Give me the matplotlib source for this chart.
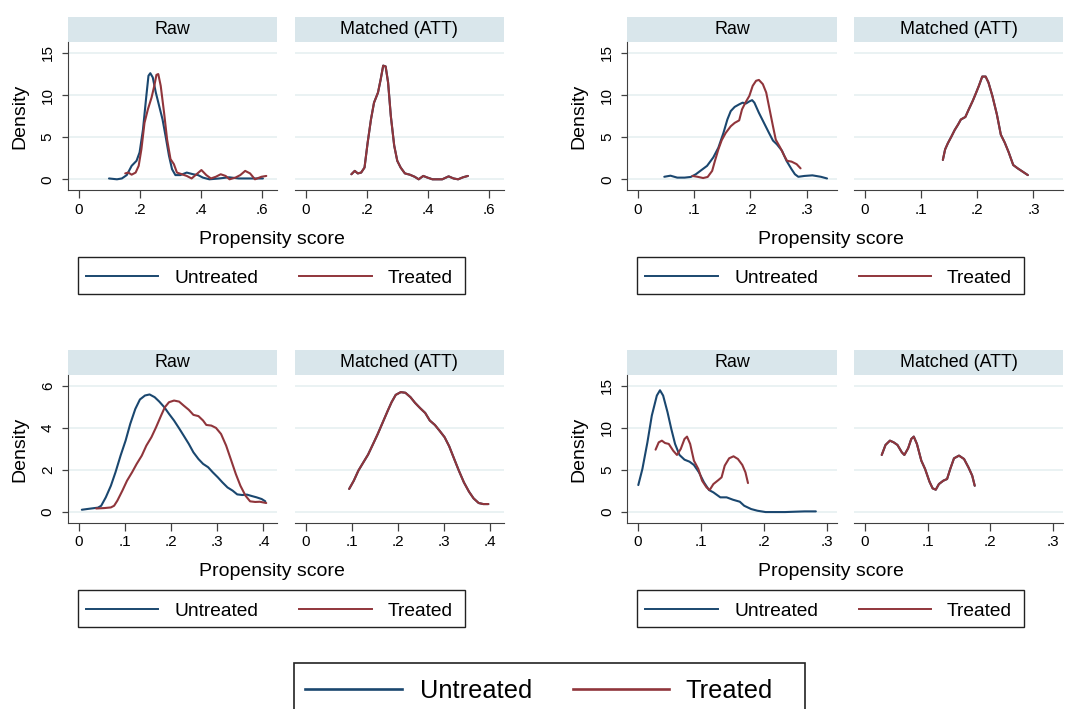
import matplotlib.pyplot as plt
from matplotlib.patches import Rectangle
from matplotlib.lines import Line2D

plt.rcParams["font.family"] = ["Liberation Sans", "DejaVu Sans"]

W, H = 1078, 709
NAVY = "#1a476f"
MAROON = "#90353b"
STRIP = "#d9e6eb"
GRID = "#eaf2f3"
AXC = "#404040"

panel_titles = ["Raw", "Matched (ATT)"]
legend_labels = ["Untreated", "Treated"]
x_title = "Propensity score"
y_title = "Density"

# ---- top-left graph ----
tl_xticks = [0, 0.2, 0.4, 0.6]
tl_xlabels = ["0", ".2", ".4", ".6"]
tl_yticks = [0, 5, 10, 15]
tl_raw_u_x = [.099, .125, .141, .157, .173, .189, .199, .210, .221, .228, .234, .242, .252, .263, .274, .284,
              .295, .305, .316, .332, .353, .374, .390, .406, .427, .459, .491, .523, .555, .586, .602]
tl_raw_u_y = [0.1, 0.0, 0.1, 0.5, 1.6, 2.2, 3.2, 5.9, 9.9, 12.3, 12.6, 12.1, 10.3, 8.7, 7.1, 5.1,
              2.8, 1.2, 0.5, 0.5, 0.8, 0.6, 0.5, 0.2, 0.0, 0.1, 0.24, 0.1, 0.1, 0.1, 0.1]
tl_raw_t_x = [.152, .162, .173, .186, .196, .205, .215, .226, .238, .247, .254, .260, .268, .279, .289, .300,
              .311, .321, .337, .353, .369, .385, .401, .417, .432, .448, .464, .480, .493, .512, .528, .544,
              .560, .576, .597, .613]
tl_raw_t_y = [0.7, 0.8, 0.55, 0.8, 1.6, 3.6, 6.7, 8.3, 9.7, 11.1, 12.4, 12.5, 11.1, 7.9, 4.7, 2.4,
              1.8, 0.8, 0.6, 0.4, 0.1, 0.6, 1.1, 0.5, 0.1, 0.3, 0.6, 0.4, 0.0, 0.2, 0.5, 1.0,
              0.7, 0.0, 0.3, 0.4]
tl_mat_x = [.150, .161, .171, .182, .193, .203, .214, .224, .237, .246, .254, .262, .270, .279, .290,
            .300, .311, .325, .341, .357, .370, .385, .399, .415, .447, .468, .484, .499, .515, .531]
tl_mat_y = [0.6, 1.0, 0.7, 0.8, 1.4, 4.3, 7.1, 9.1, 10.3, 11.9, 13.5, 13.4, 11.5, 7.5, 4.0,
            2.2, 1.4, 0.7, 0.55, 0.3, 0.0, 0.4, 0.2, 0.0, 0.0, 0.35, 0.1, 0.0, 0.24, 0.4]

# ---- top-right graph ----
tr_xticks = [0, 0.1, 0.2, 0.3]
tr_xlabels = ["0", ".1", ".2", ".3"]
tr_yticks = [0, 5, 10, 15]
tr_raw_u_x = [.047, .058, .070, .083, .094, .103, .111, .123, .134, .143, .152, .159, .165, .172, .180, .186,
              .192, .198, .203, .207, .215, .224, .233, .240, .247, .256, .264, .273, .279, .285, .296, .310,
              .325, .336]
tr_raw_u_y = [0.3, 0.43, 0.2, 0.2, 0.28, 0.6, 1.0, 1.6, 2.6, 3.75, 5.5, 7.1, 8.1, 8.6, 8.9, 9.1,
              9.0, 9.25, 9.4, 9.1, 7.9, 6.7, 5.5, 4.6, 4.15, 3.4, 2.2, 1.2, 0.6, 0.3, 0.4, 0.47,
              0.3, 0.1]
tr_raw_t_x = [.097, .106, .116, .124, .132, .137, .143, .149, .156, .165, .172, .180, .185, .191, .198,
              .204, .210, .215, .222, .228, .234, .240, .245, .253, .260, .265, .273, .282, .289]
tr_raw_t_y = [0.4, 0.3, 0.15, 0.28, 1.0, 2.2, 3.55, 4.65, 5.5, 6.3, 6.7, 7.0, 8.3, 9.1, 9.9,
              11.1, 11.7, 11.8, 11.3, 10.3, 8.3, 6.3, 4.7, 3.75, 2.8, 2.2, 2.1, 1.8, 1.3]
tr_mat_x = [.139, .143, .148, .154, .160, .166, .171, .179, .185, .192, .197, .203, .209, .215, .220,
            .227, .235, .242, .249, .256, .264, .272, .281, .290]
tr_mat_y = [2.3, 3.55, 4.3, 5.05, 5.85, 6.5, 7.1, 7.4, 8.3, 9.3, 10.1, 11.1, 12.2, 12.2, 11.5,
            9.9, 7.7, 5.3, 4.35, 3.2, 1.7, 1.3, 0.9, 0.5]

# ---- bottom-left graph ----
bl_xticks = [0, 0.1, 0.2, 0.3, 0.4]
bl_xlabels = ["0", ".1", ".2", ".3", ".4"]
bl_yticks = [0, 2, 4, 6]
bl_raw_u_x = [.006, .023, .041, .048, .058, .069, .079, .090, .101, .111, .122, .132, .143, .153, .164, .174,
              .185, .195, .206, .217, .227, .238, .248, .259, .269, .280, .290, .301, .311, .322, .333, .343,
              .354, .364, .375, .385, .396, .404]
bl_raw_u_y = [0.11, 0.16, 0.21, 0.3, 0.70, 1.25, 1.89, 2.68, 3.40, 4.19, 4.90, 5.35, 5.54, 5.59, 5.46, 5.25,
              4.98, 4.67, 4.35, 3.98, 3.63, 3.24, 2.84, 2.52, 2.29, 2.13, 1.89, 1.65, 1.41, 1.17, 1.02, 0.84,
              0.81, 0.83, 0.76, 0.70, 0.62, 0.51]
bl_raw_t_x = [.037, .055, .069, .076, .083, .094, .104, .115, .125, .136, .146, .157, .167, .178, .186, .195,
              .206, .217, .227, .238, .248, .259, .269, .276, .287, .297, .308, .319, .329, .340, .350, .361,
              .371, .382, .392, .406]
bl_raw_t_y = [0.17, 0.19, 0.22, 0.30, 0.54, 1.02, 1.49, 1.89, 2.29, 2.68, 3.16, 3.56, 4.03, 4.59, 4.98, 5.22,
              5.30, 5.25, 5.06, 4.86, 4.62, 4.56, 4.35, 4.14, 4.11, 4.00, 3.71, 3.16, 2.52, 1.81, 1.25, 0.78,
              0.51, 0.48, 0.49, 0.43]
bl_mat_x = [.094, .104, .114, .125, .135, .146, .156, .167, .178, .186, .195, .206, .216, .227, .237,
            .248, .259, .269, .280, .290, .301, .311, .322, .332, .343, .354, .364, .375, .385, .396]
bl_mat_y = [1.10, 1.49, 1.97, 2.37, 2.73, 3.24, 3.71, 4.27, 4.83, 5.22, 5.57, 5.70, 5.67, 5.46, 5.19,
            4.94, 4.71, 4.35, 4.14, 3.87, 3.56, 3.13, 2.52, 1.97, 1.41, 0.97, 0.65, 0.43, 0.38, 0.38]

# ---- bottom-right graph ----
br_xticks = [0, 0.1, 0.2, 0.3]
br_xlabels = ["0", ".1", ".2", ".3"]
br_yticks = [0, 5, 10, 15]
br_raw_u_x = [.0005, .007, .015, .022, .030, .035, .040, .047, .053, .059, .066, .074, .082, .089, .097, .105,
              .113, .120, .131, .141, .151, .162, .169, .180, .190, .203, .218, .234, .249, .265, .283]
br_raw_u_y = [3.21, 5.12, 8.29, 11.47, 13.85, 14.48, 13.85, 11.87, 9.88, 8.10, 6.79, 6.23, 5.99, 5.60, 4.72, 3.53,
              2.62, 2.34, 1.75, 1.75, 1.47, 1.23, 0.75, 0.36, 0.16, 0.0, 0.0, 0.0, 0.04, 0.08, 0.08]
br_raw_t_x = [.028, .033, .038, .043, .049, .056, .062, .068, .074, .078, .083, .089, .096, .102, .109, .114,
              .120, .128, .133, .138, .145, .152, .159, .166, .171, .175]
br_raw_t_y = [7.42, 8.29, 8.49, 8.21, 8.10, 7.30, 6.79, 7.50, 8.69, 8.97, 8.10, 6.11, 5.12, 3.73, 2.94, 2.62,
              3.33, 3.81, 4.13, 5.52, 6.39, 6.63, 6.31, 5.60, 4.72, 3.45]
br_mat_x = [.027, .033, .040, .046, .052, .059, .063, .069, .074, .078, .083, .090, .096, .103, .108, .113,
            .118, .125, .131, .136, .142, .150, .158, .165, .171, .175]
br_mat_y = [6.79, 7.98, 8.49, 8.29, 7.98, 7.10, 6.79, 7.58, 8.69, 8.97, 8.10, 6.11, 5.12, 3.61, 2.82, 2.66,
            3.33, 3.73, 3.93, 5.12, 6.39, 6.71, 6.31, 5.32, 4.33, 3.13]

fig = plt.figure(figsize=(W / 100, H / 100), dpi=100)
fig.patch.set_facecolor("white")

# pixel-coordinate overlay for strips, titles and legends
over = fig.add_axes([0, 0, 1, 1])
over.set_xlim(0, W)
over.set_ylim(H, 0)
over.axis("off")


def box(x0, y0, x1, y1):
    return [x0 / W, 1 - y1 / H, (x1 - x0) / W, (y1 - y0) / H]


def small_legend(bx, by):
    top = by + 239.7
    over.add_patch(Rectangle((bx + 9.7, top), 387.3, 37.3, facecolor="white", edgecolor="#222222", lw=1.0))
    ly = by + 258.7
    over.add_line(Line2D([bx + 18, bx + 90.3], [ly, ly], color=NAVY, lw=1.4))
    over.add_line(Line2D([bx + 231.3, bx + 303.7], [ly, ly], color=MAROON, lw=1.4))
    over.text(bx + 107, by + 266.3, legend_labels[0], fontsize=13.8, va="baseline", ha="left")
    over.text(bx + 319.3, by + 266.3, legend_labels[1], fontsize=13.8, va="baseline", ha="left")


def graph(bx, by, xlim, ylim, xticks, xlabels, yticks, raw, matched):
    top = by + 25.3
    bottom = by + 173
    spans = [(bx, bx + 209.3), (bx + 226.8, bx + 436)]
    for i, (x0, x1) in enumerate(spans):
        over.add_patch(Rectangle((x0, by), x1 - x0, 25.3, facecolor=STRIP, edgecolor="none"))
        over.text((x0 + x1) / 2, by + 12.8, panel_titles[i], fontsize=12.9, ha="center", va="center")
        ax = fig.add_axes(box(x0, top, x1, bottom))
        ax.set_xlim(xlim)
        ax.set_ylim(ylim)
        curves = raw if i == 0 else matched
        for (xs, ys), c in zip(curves, [NAVY, MAROON]):
            ax.plot(xs, ys, color=c, lw=1.5, solid_joinstyle="round", solid_capstyle="round")
        ax.set_xticks(xticks, xlabels)
        ax.set_yticks(yticks, [str(v) for v in yticks], rotation=90, va="center")
        ax.grid(axis="y", color=GRID, lw=1.4)
        ax.set_axisbelow(True)
        ax.spines["top"].set_visible(False)
        ax.spines["right"].set_visible(False)
        ax.spines["bottom"].set_color(AXC)
        ax.spines["left"].set_color(AXC)
        ax.tick_params(axis="x", direction="out", length=5.5, width=0.9, color=AXC, labelsize=11, pad=3.5)
        ax.tick_params(axis="y", direction="out", length=4.5, width=0.9, color=AXC, labelsize=11, pad=5)
        if i == 1:
            ax.spines["left"].set_visible(False)
            ax.tick_params(axis="y", left=False, labelleft=False)
    over.text(bx - 48, (top + bottom) / 2, y_title, fontsize=14, rotation=90, ha="center", va="center")
    over.text(bx + 204, by + 222, x_title, fontsize=14, ha="center", va="center")
    small_legend(bx, by)


graph(68, 17, (-0.035, 0.649), (-1.27, 16.27), tl_xticks, tl_xlabels, tl_yticks,
      [(tl_raw_u_x, tl_raw_u_y), (tl_raw_t_x, tl_raw_t_y)],
      [(tl_mat_x, tl_mat_y), (tl_mat_x, tl_mat_y)])
graph(627.3, 17, (-0.0187, 0.353), (-1.27, 16.27), tr_xticks, tr_xlabels, tr_yticks,
      [(tr_raw_u_x, tr_raw_u_y), (tr_raw_t_x, tr_raw_t_y)],
      [(tr_mat_x, tr_mat_y), (tr_mat_x, tr_mat_y)])
graph(68, 350, (-0.024, 0.43), (-0.52, 6.5), bl_xticks, bl_xlabels, bl_yticks,
      [(bl_raw_u_x, bl_raw_u_y), (bl_raw_t_x, bl_raw_t_y)],
      [(bl_mat_x, bl_mat_y), (bl_mat_x, bl_mat_y)])
graph(627.3, 350, (-0.017, 0.316), (-1.30, 16.26), br_xticks, br_xlabels, br_yticks,
      [(br_raw_u_x, br_raw_u_y), (br_raw_t_x, br_raw_t_y)],
      [(br_mat_x, br_mat_y), (br_mat_x, br_mat_y)])

# combined legend at the bottom
over.add_patch(Rectangle((294, 663.3), 511, 60, facecolor="white", edgecolor="#222222", lw=1.2))
over.add_line(Line2D([305, 401.7], [689.3, 689.3], color=NAVY, lw=1.9))
over.add_line(Line2D([572.7, 669.3], [689.3, 689.3], color=MAROON, lw=1.9))
over.text(420, 697.7, legend_labels[0], fontsize=18.3, va="baseline", ha="left")
over.text(685, 697.7, legend_labels[1], fontsize=18.3, va="baseline", ha="left")

fig.savefig("out.png", dpi=100, facecolor="white")
